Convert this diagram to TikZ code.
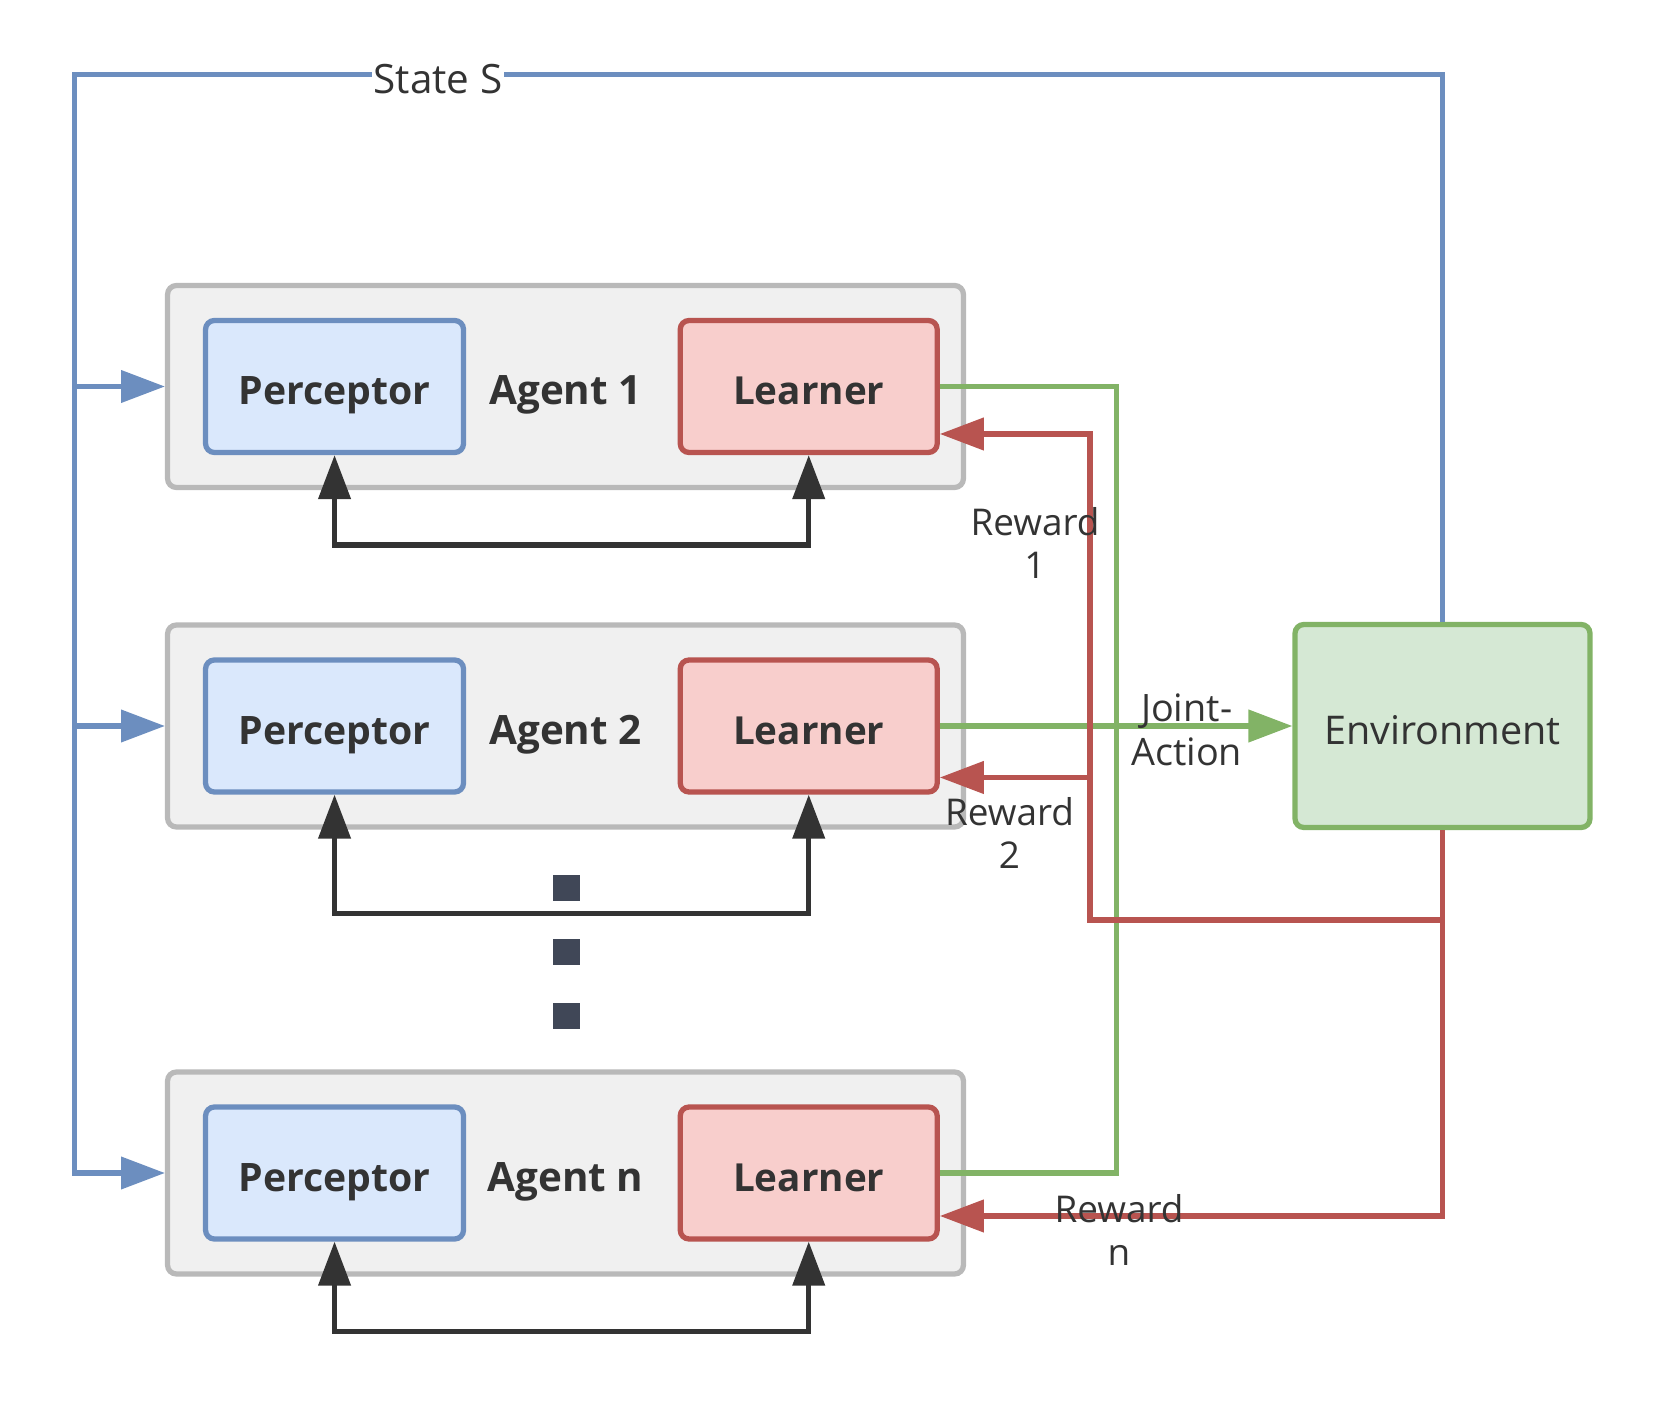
\documentclass[tikz,border=0pt]{standalone}
\usepackage{fontspec}
\setmainfont{Open Sans}
\usetikzlibrary{positioning,arrows.meta}

\definecolor{txt}{HTML}{333333}
\definecolor{bluel}{HTML}{6C8EBF}
\definecolor{bluef}{HTML}{DAE8FC}
\definecolor{redl}{HTML}{B85450}
\definecolor{redf}{HTML}{F8CECC}
\definecolor{greenl}{HTML}{82B366}
\definecolor{greenf}{HTML}{D5E8D4}
\definecolor{grayl}{HTML}{B9B9B9}
\definecolor{grayf}{HTML}{F0F0F0}
\definecolor{dotc}{HTML}{404757}

\tikzset{
  box/.style={draw, rounded corners=5pt, line width=3pt, text=txt, text height=21pt, text depth=0pt},
  agent/.style={box, draw=grayl, fill=grayf, minimum width=15.92cm, minimum height=4.04cm},
  percep/.style={box, draw=bluel, fill=bluef, minimum width=5.16cm, minimum height=2.64cm, font=\fontsize{22.3}{26}\selectfont\bfseries},
  learner/.style={box, draw=redl, fill=redf, minimum width=5.14cm, minimum height=2.64cm, font=\fontsize{22}{26}\selectfont\bfseries},
  env/.style={box, draw=greenl, fill=greenf, minimum width=5.9cm, minimum height=4.06cm, font=\fontsize{22.5}{26}\selectfont},
  agentlbl/.style={text=txt, text height=21pt, text depth=0pt, font=\fontsize{23}{26}\selectfont\bfseries},
  lbl/.style={text=txt, font=\fontsize{21}{25}\selectfont, align=center},
  tip/.style={-{Triangle[length=25pt,width=18pt]}},
  state/.style={draw=bluel, line width=3pt},
  joint/.style={draw=greenl, line width=3pt},
  reward/.style={draw=redl, line width=3pt, tip},
  fb/.style={draw=txt, line width=3pt, {Triangle[length=25pt,width=18pt]}-{Triangle[length=25pt,width=18pt]}},
  dot/.style={fill=dotc, minimum size=0.54cm, inner sep=0pt}
}

\begin{document}
\begin{tikzpicture}[x=0.02cm,y=-0.02cm]
  \useasboundingbox (0,0) rectangle (1668,1405);

  % Agents
  \node[agent] (agent_1) at (565.5,386.5) {};
  \node[percep, right = 0.76cm of agent_1.west] (percep_1) {Perceptor};
  \node[learner, right = 4.23cm of percep_1] (learn_1) {Learner};
  \node[agentlbl] (agent_lbl_1) at (agent_1) {Agent 1};

  \node[agent] (agent_2) at (565.5,726) {};
  \node[percep, right = 0.76cm of agent_2.west] (percep_2) {Perceptor};
  \node[learner, right = 4.23cm of percep_2] (learn_2) {Learner};
  \node[agentlbl] (agent_lbl_2) at (agent_2) {Agent 2};

  \node[agent] (agent_n) at (565.5,1173) {};
  \node[percep, right = 0.76cm of agent_n.west] (percep_n) {Perceptor};
  \node[learner, right = 4.23cm of percep_n] (learn_n) {Learner};
  \node[agentlbl] (agent_lbl_n) at (agent_n) {Agent n};

  % dots between agents
  \node[dot] (dot_1) at (566,888) {};
  \node[dot] (dot_2) at (566,952) {};
  \node[dot] (dot_3) at (566,1016) {};

  \node[env] (env) at (1442.5,726) {Environment};

  % perceptor <-> learner
  \draw[fb] (percep_1.south) -- ++(0,90) -| (learn_1.south);
  \draw[fb] (percep_2.south) -- ++(0,119) -| (learn_2.south);
  \draw[fb] (percep_n.south) -- ++(0,90) -| (learn_n.south);

  % state
  \coordinate (rail) at (74.5,74.5);
  \draw[state, tip] (env.north) |- (rail) |- (agent_n.west);
  \draw[state, tip] (rail |- agent_1) -- (agent_1.west);
  \draw[state, tip] (rail |- agent_2) -- (agent_2.west);
  \node[lbl, fill=white, inner sep=1pt, font=\fontsize{23}{26}\selectfont] (state_lbl) at (438,79) {State S};

  % joint action
  \draw[joint] (learn_1.east) -- ++(177,0) |- (learn_n.east);
  \draw[joint, tip] (learn_2.east) -- node[lbl, pos=0.7, yshift=-2pt, font=\fontsize{21.5}{25}\selectfont] (ja_lbl) {Joint-\\Action} (env.west);

  % rewards
  \coordinate (bus) at (1090,920);
  \coordinate (rw_1) at ([yshift=-0.95cm]learn_1.east);
  \coordinate (rw_2) at ([yshift=-1.03cm]learn_2.east);
  \coordinate (rw_n) at ([yshift=-0.86cm]learn_n.east);
  \draw[reward] (env.south) |- (bus) |- (rw_1);
  \draw[reward] (bus |- rw_2) -- (rw_2);
  \draw[reward] (env.south) |- (rw_n);

  \node[lbl] (rw_lbl_1) at (1035,543) {Reward\\1};
  \node[lbl] (rw_lbl_2) at (1009.5,833) {Reward\\2};
  \node[lbl] (rw_lbl_n) at (1119,1230) {Reward\\n};

\end{tikzpicture}
\end{document}
